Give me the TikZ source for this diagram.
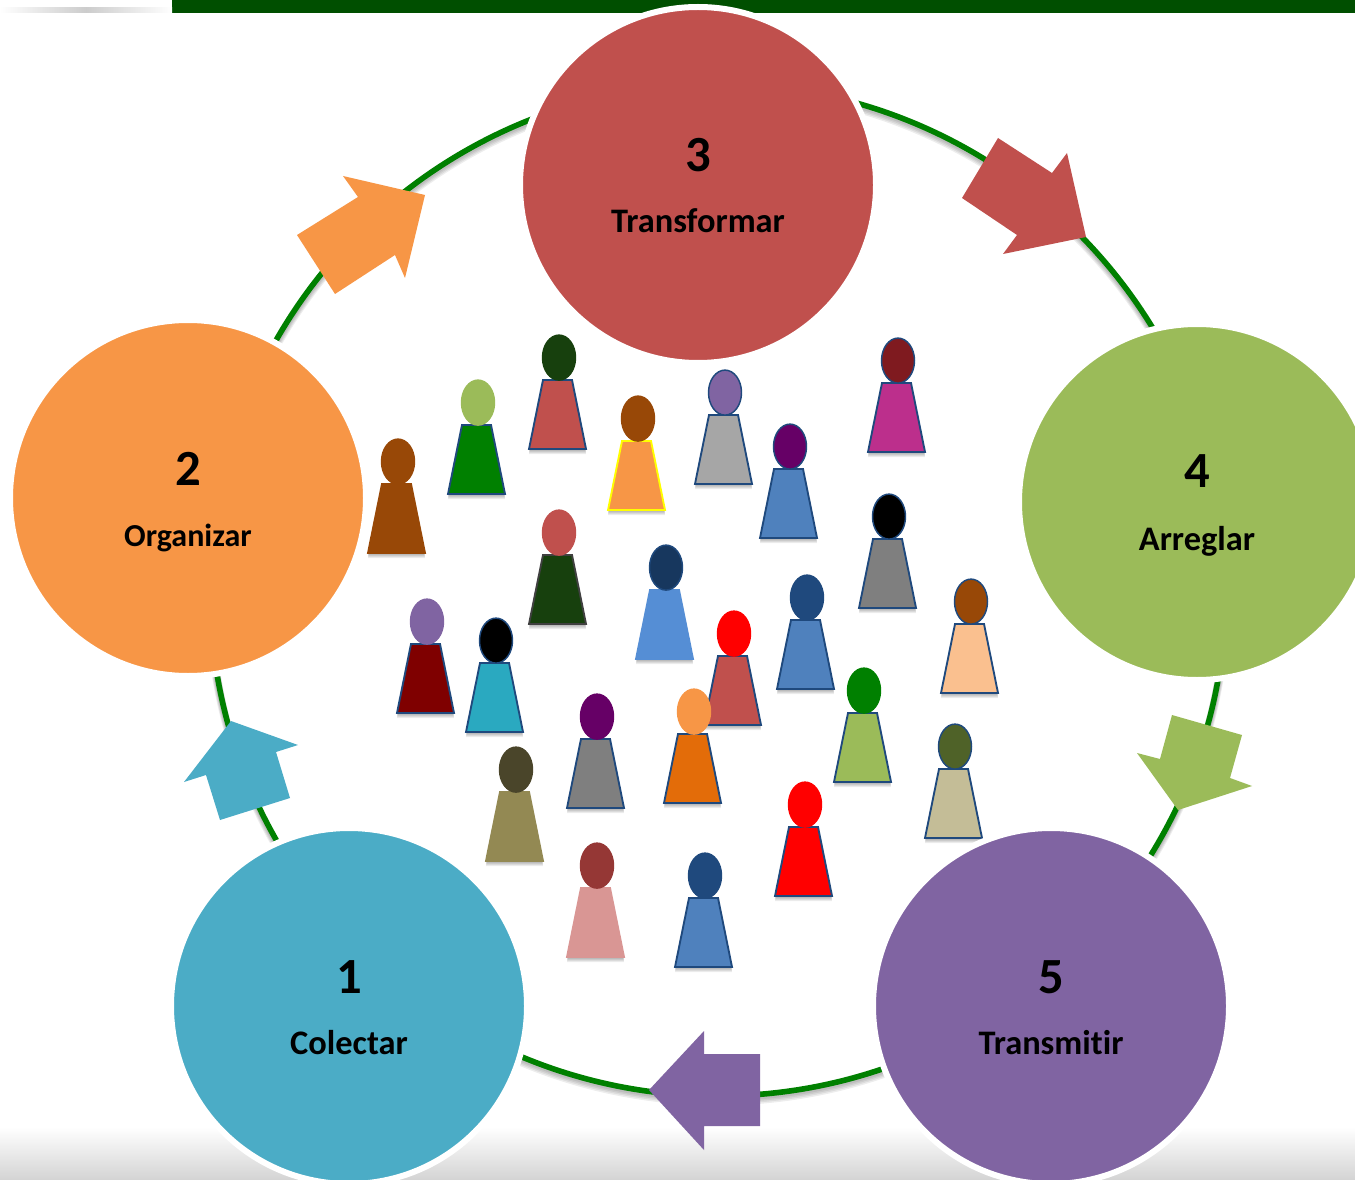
\documentclass[tikz,border=0pt]{standalone}
\usepackage{fontspec}
\setmainfont[Ligatures=NoCommon]{Carlito}
\usetikzlibrary{shapes.geometric}
\definecolor{barG}{HTML}{004F00}
\definecolor{ringG}{HTML}{008000}
\definecolor{cRed}{HTML}{C0504D}
\definecolor{cOra}{HTML}{F79646}
\definecolor{cGre}{HTML}{9BBB59}
\definecolor{cBlu}{HTML}{4BACC6}
\definecolor{cPur}{HTML}{8064A2}
\definecolor{navy}{HTML}{1F497D}
\definecolor{brownA}{HTML}{984807}
\definecolor{forest}{HTML}{17400D}
\definecolor{steel}{HTML}{4F81BD}
\definecolor{sky}{HTML}{558ED5}
\definecolor{midnight}{HTML}{17375E}
\definecolor{plumA}{HTML}{660066}
\definecolor{wine}{HTML}{7F1A1F}
\definecolor{magA}{HTML}{BC2F8C}
\definecolor{grayA}{HTML}{A6A6A6}
\definecolor{grayB}{HTML}{7F7F7F}
\definecolor{peach}{HTML}{FAC08F}
\definecolor{maroonA}{HTML}{7F0000}
\definecolor{tealA}{HTML}{2AA9C0}
\definecolor{orangeB}{HTML}{E36C09}
\definecolor{olive}{HTML}{4F6228}
\definecolor{tan}{HTML}{C4BD97}
\definecolor{umber}{HTML}{4A452A}
\definecolor{khaki}{HTML}{938953}
\definecolor{brick}{HTML}{953735}
\definecolor{rose}{HTML}{D99694}
\definecolor{pureR}{HTML}{FF0000}
\definecolor{pureG}{HTML}{008000}
\definecolor{pureY}{HTML}{FFFF00}
\definecolor{slate}{HTML}{404040}
\tikzset{
  stage/.style={circle,minimum size=267pt,inner sep=0pt,draw=white,line width=4.5pt,fill=#1},
  numtxt/.style={font=\fontsize{38}{38}\selectfont\bfseries,text=black,inner sep=0pt,anchor=base},
  nametxt/.style={font=\fontsize{#1}{26}\selectfont\bfseries,text=black,inner sep=0pt,anchor=base},
  blockarrow/.style={fill=#1,draw=none},
}
\begin{document}
\begin{tikzpicture}[x=0.75pt,y=-0.75pt]
\useasboundingbox (0,0) rectangle (1355,1180);
\clip (0,0) rectangle (1355,1180);
% background
\fill[white] (0,0) rectangle (1355,1180);
\shade[top color=white,bottom color=black!17] (0,1127) rectangle (1355,1180);
\fill[barG] (172,0) rectangle (1355,13);
\shade[left color=white,right color=white,middle color=black!20] (0,8) rectangle (172,13);
% ring
\foreach \s/\w in {5/9,4/8,3/7,2/6}
  \draw[black,opacity=.07,line width=\w*0.75pt] (718,{590+\s}) circle [x radius=508,y radius=506];
\coordinate (ringc) at (718,590);
\draw[ringG,line width=4.2pt] (ringc) circle [x radius=508,y radius=506];
% people
\foreach \hx/\hy/\hc/\hl/\bc/\bl in {
  398/461/brownA/brownA/brownA/brownA,
  478/402/cGre/cGre/pureG/navy,
  559/357/forest/forest/cRed/navy,
  638/418/brownA/brownA/cOra/pureY,
  725/392/cPur/navy/grayA/navy,
  790/446/plumA/navy/steel/navy,
  898/360/wine/navy/magA/navy,
  889/516/black/navy/grayB/navy,
  559/532/cRed/cRed/forest/slate,
  666/567/midnight/navy/sky/sky,
  734/633/pureR/pureR/cRed/navy,
  807/597/navy/navy/steel/navy,
  971/601/brownA/navy/peach/navy,
  427/621/cPur/cPur/maroonA/navy,
  496/640/black/navy/tealA/navy,
  597/716/plumA/plumA/grayB/navy,
  694/711/cOra/cOra/orangeB/navy,
  864/690/pureG/pureG/cGre/navy,
  955/746/olive/navy/tan/navy,
  516/769/umber/umber/khaki/khaki,
  805/804/pureR/pureR/pureR/navy,
  597/865/brick/brick/rose/rose,
  705/875/navy/navy/steel/navy}{
  \foreach \s in {1,2,3,4,5}
    \fill[black,opacity=.07] ({\hx-16},{\hy+23+\s}) -- ({\hx+13},{\hy+23+\s}) -- ({\hx+27},{\hy+92+\s}) -- ({\hx-30},{\hy+92+\s}) -- cycle;
  \draw[fill=\bc,draw=\bl,line width=1.4pt,line join=miter] ({\hx-16},{\hy+23}) -- ({\hx+13},{\hy+23}) -- ({\hx+27},{\hy+92}) -- ({\hx-30},{\hy+92}) -- cycle;
  \draw[fill=\hc,draw=\hl,line width=1.1pt] (\hx,{\hy+0.6}) circle [x radius=16.5,y radius=22.5];
}
% block arrows
\fill[blockarrow=cRed] (998,138) -- (1052,173) -- (1067,153) -- (1086,237) -- (1003,254) -- (1017,235) -- (962,198) -- cycle;
\fill[blockarrow=cOra] (425,195) -- (343,176) -- (358,197) -- (297,235) -- (335,294) -- (395,255) -- (405,278) -- cycle;
\fill[blockarrow=cGre] (1172,715) -- (1242,735) -- (1230,778) -- (1252,786) -- (1178,810) -- (1137,753) -- (1160,759) -- cycle;
\fill[blockarrow=cPur] (649,1090) -- (704,1031) -- (704,1054) -- (760,1054) -- (760,1126) -- (704,1126) -- (704,1150) -- cycle;
\fill[blockarrow=cBlu] (231,721) -- (298,745) -- (276,752) -- (290,798) -- (220,820) -- (206,775) -- (184,782) -- cycle;
% stages
\node[stage=cRed] (s3) at (698,185) {};
\node[stage=cOra] (s2) at (188,498) {};
\node[stage=cGre] (s4) at (1197,502) {};
\node[stage=cBlu] (s1) at (349,1006) {};
\node[stage=cPur] (s5) at (1051,1006) {};
\foreach \n/\d/\t/\o/\f in {s3/3/Transformar/9.75pt/25.8,s2/2/Organizar/9.75pt/24,s4/4/Arreglar/11pt/25.8,s1/1/Colectar/9.75pt/25.8,s5/5/Transmitir/9.75pt/25.8}{
  \node[numtxt] (\n num) at ([yshift=\o]\n.center) {\d};
  \node[nametxt=\f] (\n name) at ([yshift=-36pt]\n.center) {\t};
}
\end{tikzpicture}
\end{document}
